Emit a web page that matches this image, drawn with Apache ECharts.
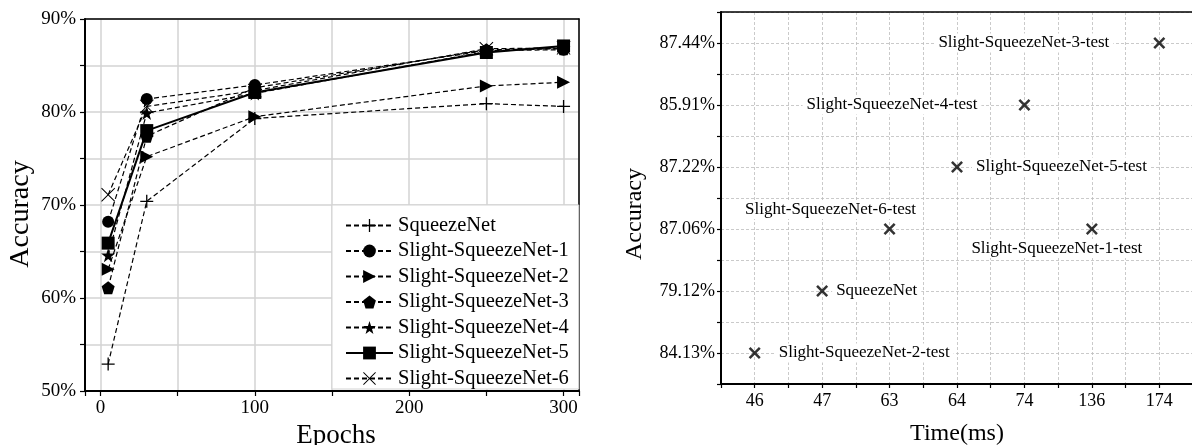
<!DOCTYPE html>
<html>
<head>
<meta charset="utf-8">
<script src="https://cdn.jsdelivr.net/npm/echarts@6/dist/echarts.min.js"></script>
<style>
html,body{margin:0;padding:0;background:#fff;}
#main{width:1192px;height:445px;}
</style>
</head>
<body>
<div id="main"></div>
<script>
// ---- Left chart data ----
const epochs = [5, 30, 100, 250, 300];
const seriesNames = ['SqueezeNet', 'Slight-SqueezeNet-1', 'Slight-SqueezeNet-2', 'Slight-SqueezeNet-3', 'Slight-SqueezeNet-4', 'Slight-SqueezeNet-5', 'Slight-SqueezeNet-6'];
const squeezeNet = [52.9, 70.4, 79.3, 80.9, 80.6];
const slight1 = [68.2, 81.4, 82.9, 86.6, 86.7];
const slight2 = [63.1, 75.2, 79.5, 82.8, 83.2];
const slight3 = [61.1, 77.4, 82.6, 86.7, 86.8];
const slight4 = [64.6, 79.9, 82.0, 86.5, 86.9];
const slight5 = [65.9, 78.0, 82.1, 86.4, 87.1];
const slight6 = [71.1, 80.6, 82.3, 86.8, 86.9];
const seriesValues = [squeezeNet, slight1, slight2, slight3, slight4, slight5, slight6];

// ---- Right chart data ----
const timeLabels = ['46', '47', '63', '64', '74', '136', '174'];
const accLabels = ['84.13%', '79.12%', '87.06%', '87.22%', '85.91%', '87.44%']; // bottom to top
const testNames = ['Slight-SqueezeNet-3-test', 'Slight-SqueezeNet-4-test', 'Slight-SqueezeNet-5-test', 'Slight-SqueezeNet-6-test', 'Slight-SqueezeNet-1-test', 'SqueezeNet', 'Slight-SqueezeNet-2-test'];
const testTimes = ['174', '74', '64', '63', '136', '47', '46'];
const testAcc = ['87.44%', '85.91%', '87.22%', '87.06%', '87.06%', '79.12%', '84.13%'];

// ---- styles ----
const FONT = 'Liberation Serif';
const PLUS = 'path://M9,0H11V9H20V11H11V20H9V11H0V9H9Z';
const XTHIN = 'path://M1,0L10,9L19,0L20,1L11,10L20,19L19,20L10,11L1,20L0,19L9,10L0,1Z';
const STAR = 'path://M50,0L61.8,35.1L98.1,35.1L68.8,56.7L79.4,91L50,70L20.6,91L31.2,56.7L1.9,35.1L38.2,35.1Z';
const PENTA = 'path://M50,0L97.6,34.5L79.4,90.5L20.6,90.5L2.4,34.5Z';
const XBOLD = 'path://M0,3L3,0L10,7L17,0L20,3L13,10L20,17L17,20L10,13L3,20L0,17L7,10Z';
const seriesStyle = [
  {symbol: PLUS, size: 13, rotate: 0, line: 'dashed'},
  {symbol: 'circle', size: 12, rotate: 0, line: 'dashed'},
  {symbol: 'triangle', size: 13, rotate: -90, line: 'dashed'},
  {symbol: PENTA, size: 13, rotate: 0, line: 'dashed'},
  {symbol: STAR, size: 14, rotate: 0, line: 'dashed'},
  {symbol: 'rect', size: 13, rotate: 0, line: 'solid'},
  {symbol: XTHIN, size: 14, rotate: 0, line: 'dashed'}
];
const labelPlacement = [
  {position: 'left', distance: 40, offset: [0, 0]},
  {position: 'left', distance: 37, offset: [0, 0]},
  {position: 'right', distance: 9, offset: [0, 0]},
  {position: 'top', distance: 4, offset: [-59, 0]},
  {position: 'bottom', distance: 4, offset: [-35, 0]},
  {position: 'right', distance: 4, offset: [0, 0]},
  {position: 'right', distance: 14, offset: [0, 0]}
];

const lineSeries = seriesNames.map((name, i) => ({
  name: name,
  type: 'line',
  xAxisIndex: 0,
  yAxisIndex: 0,
  data: epochs.map((e, j) => [e, seriesValues[i][j]]),
  symbol: seriesStyle[i].symbol,
  symbolSize: seriesStyle[i].size,
  symbolRotate: seriesStyle[i].rotate,
  showSymbol: true,
  lineStyle: {color: '#000', width: seriesStyle[i].line === 'solid' ? 2 : 1.2, type: seriesStyle[i].line === 'solid' ? 'solid' : [5, 3]},
  itemStyle: {color: '#000'},
  z: i === 5 ? 3 : 2,
  animation: false,
  emphasis: {disabled: true}
}));

const scatterData = testNames.map((n, i) => ({
  name: n,
  value: [timeLabels.indexOf(testTimes[i]), accLabels.indexOf(testAcc[i])],
  label: {
    show: true,
    formatter: n,
    position: labelPlacement[i].position,
    distance: labelPlacement[i].distance,
    offset: labelPlacement[i].offset,
    color: '#000',
    opacity: 1,
    fontFamily: FONT,
    fontSize: 17,
    backgroundColor: '#fff',
    padding: [1, 4]
  }
}));

const frameAxis = (gridIndex, pos) => ({
  gridIndex: gridIndex, type: 'value', position: pos, min: 0, max: 1,
  axisLine: {show: true, onZero: false, lineStyle: {color: '#000', width: 1.5}},
  axisTick: {show: false}, axisLabel: {show: false}, splitLine: {show: false}
});

const chart = echarts.init(document.getElementById('main'), null, {renderer: 'canvas'});
chart.setOption({
  backgroundColor: '#fff',
  animation: false,
  grid: [
    {left: 85, right: 613, top: 19, bottom: 54, containLabel: false, outerBoundsMode: 'none'},
    {left: 721, width: 472, top: 12, bottom: 61, containLabel: false, outerBoundsMode: 'none'}
  ],
  legend: {
    data: seriesNames,
    orient: 'vertical',
    left: 332,
    top: 205,
    itemWidth: 47,
    itemHeight: 16,
    itemGap: 4.5,
    padding: [10, 10, 0, 13],
    backgroundColor: '#fff',
    borderColor: '#d3d3d3',
    borderWidth: 1,
    z: 6,
    textStyle: {fontFamily: FONT, fontSize: 20.5, color: '#000', lineHeight: 20},
    selectedMode: false
  },
  xAxis: [
    {
      gridIndex: 0, type: 'value', min: -10, max: 310, splitNumber: 6,
      name: 'Epochs', nameLocation: 'middle', nameGap: 29,
      nameTextStyle: {fontFamily: FONT, fontSize: 27, color: '#000', padding: [0, 0, 0, 8]},
      axisLine: {show: true, onZero: false, lineStyle: {color: '#000', width: 2}},
      axisTick: {show: true, inside: false, length: 5, lineStyle: {color: '#000', width: 1.2}},
      axisLabel: {margin: 8, fontFamily: FONT, fontSize: 19, color: '#000',
        formatter: v => (v >= 0 && v % 100 === 0) ? String(v) : ''},
      splitLine: {show: true, lineStyle: {color: '#d3d3d3', width: 1.5}}
    },
    {
      gridIndex: 1, type: 'value', min: -0.5, max: 6.5, interval: 0.5,
      name: 'Time(ms)', nameLocation: 'middle', nameGap: 38,
      nameTextStyle: {fontFamily: FONT, fontSize: 24, color: '#000'},
      axisLine: {show: true, onZero: false, lineStyle: {color: '#000', width: 2}},
      axisTick: {show: true, inside: false, length: 4, lineStyle: {color: '#000', width: 1.2}},
      axisLabel: {margin: 8, fontFamily: FONT, fontSize: 18, color: '#000', showMinLabel: true, showMaxLabel: true,
        formatter: v => Number.isInteger(v) && timeLabels[v] !== undefined ? timeLabels[v] : ''},
      splitLine: {show: true, lineStyle: {color: '#bdbdbd', width: 0.8, type: [3, 2]}}
    },
    frameAxis(0, 'top'),
    frameAxis(1, 'top')
  ],
  yAxis: [
    {
      gridIndex: 0, type: 'value', min: 50, max: 90, interval: 5,
      name: 'Accuracy', nameLocation: 'middle', nameGap: 50,
      nameTextStyle: {fontFamily: FONT, fontSize: 28, color: '#000', padding: [0, 18, 0, 0]},
      axisLine: {show: true, onZero: false, lineStyle: {color: '#000', width: 2}},
      axisTick: {show: true, inside: false, length: 5, lineStyle: {color: '#000', width: 1.2}},
      axisLabel: {margin: 9, fontFamily: FONT, fontSize: 19, color: '#000',
        formatter: v => v % 10 === 0 ? v + '%' : ''},
      splitLine: {show: true, lineStyle: {color: '#d3d3d3', width: 1.5}}
    },
    {
      gridIndex: 1, type: 'value', min: -0.5, max: 5.5, interval: 0.5,
      name: 'Accuracy', nameLocation: 'middle', nameGap: 74,
      nameTextStyle: {fontFamily: FONT, fontSize: 24, color: '#000', padding: [0, 32, 0, 0]},
      axisLine: {show: true, onZero: false, lineStyle: {color: '#000', width: 2}},
      axisTick: {show: true, inside: false, length: 4, lineStyle: {color: '#000', width: 1.2}},
      axisLabel: {margin: 6, fontFamily: FONT, fontSize: 18, color: '#000',
        formatter: v => Number.isInteger(v) && accLabels[v] !== undefined ? accLabels[v] : ''},
      splitLine: {show: true, lineStyle: {color: '#bdbdbd', width: 0.8, type: [3, 2]}}
    },
    frameAxis(0, 'right'),
    frameAxis(1, 'right')
  ],
  series: lineSeries.concat([{
    name: 'test',
    type: 'scatter',
    xAxisIndex: 1,
    yAxisIndex: 1,
    symbol: XBOLD,
    symbolSize: 12,
    itemStyle: {color: '#000'},
    data: scatterData,
    animation: false,
    emphasis: {disabled: true},
    z: 4
  }])
});
</script>
</body>
</html>
